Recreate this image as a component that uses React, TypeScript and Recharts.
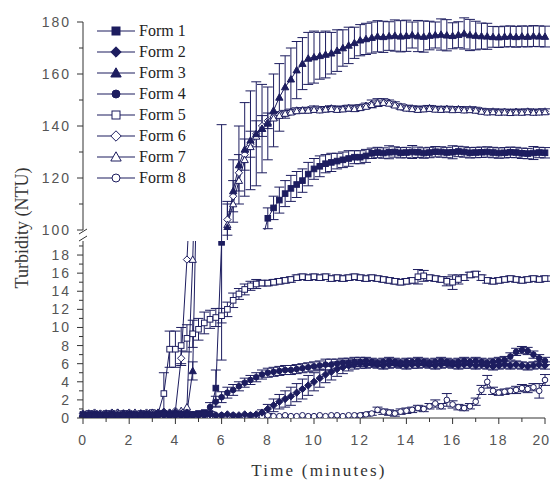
import { LineChart, Line, XAxis, YAxis, ErrorBar } from "recharts";

const NAVY = "#1d1d5f";
const AXIS = "#333";
const TICK_TXT = "#555";
const SANS = "'Liberation Sans', Arial, Helvetica, sans-serif";
const SERIF = "'Liberation Serif', 'Times New Roman', serif";

// time in minutes (0.25 min steps)
const time = [
  0, 0.25, 0.5, 0.75, 1, 1.25, 1.5, 1.75, 2, 2.25, 2.5, 2.75, 3, 3.25, 3.5, 3.75,
  4, 4.25, 4.5, 4.75, 5, 5.25, 5.5, 5.75, 6, 6.25, 6.5, 6.75, 7, 7.25, 7.5, 7.75,
  8, 8.25, 8.5, 8.75, 9, 9.25, 9.5, 9.75, 10, 10.25, 10.5, 10.75, 11, 11.25, 11.5, 11.75,
  12, 12.25, 12.5, 12.75, 13, 13.25, 13.5, 13.75, 14, 14.25, 14.5, 14.75, 15, 15.25, 15.5, 15.75,
  16, 16.25, 16.5, 16.75, 17, 17.25, 17.5, 17.75, 18, 18.25, 18.5, 18.75, 19, 19.25, 19.5, 19.75, 20,
];

const form1 = [
  0.3, 0.3, 0.4, 0.3, 0.3, 0.4, 0.3, 0.3, 0.4, 0.3, 0.3, 0.4, 0.3, 0.4, 0.5, 0.4, 0.5, 0.4, 0.5, 0.4, 0.5, 0.6, 0.5,
  3.3, 19.4, null, null, null, null, null, null, 96,
  104.5, 108.5, 111.5, 114, 116, 117.5, 119, 121.5, 123.5, 124.5, 125.5, 126, 126.5, 127, 127.5, 128, 128, 128.5, 129.5,
  129.8, 129.6, 129.9, 130, 129.7, 129.8, 130, 129.9, 129.6, 129.8,
  130.1, 130, 129.8, 129.9, 130.2, 130, 129.7, 129.8, 129.9, 130,
  129.8, 129.6, 129.7, 129.9, 129.8, 129.5, 129.4, 129.6, 129.8, 129.7,
];
const form1Err = [
  0, 0, 0, 0, 0, 0, 0, 0, 0, 0, 0, 0, 0, 0, 0, 0, 0, 0, 0, 0, 0, 0, 0,
  2, 13, 0, 0, 0, 0, 0, 0, 0,
  4, 4.5, 5, 5, 5, 5, 4.5, 4.5, 4, 4, 3.5, 3.5, 3, 3, 3, 2.5, 2.5, 2.5, 2,
  2, 2, 2.5, 2, 2, 2, 2.5, 2, 2, 2,
  2, 2, 2, 2.5, 2, 2, 2, 2, 2, 2,
  2, 2, 2, 2, 2, 2, 2, 2.5, 2, 2,
];

const form2 = [
  0.2, 0.2, 0.3, 0.2, 0.2, 0.3, 0.2, 0.2, 0.3, 0.2, 0.2, 0.3, 0.2, 0.3, 0.3, 0.2,
  0.3, 0.3, 0.2, 0.3, 0.3, 0.3, 0.4, 0.3, 0.3, 0.4, 0.3, 0.3, 0.4, 0.3, 0.4,
  0.6, 1.0, 1.4, 1.8, 2.1, 2.4, 2.8, 3.2, 3.6, 4.0, 4.4, 4.8, 5.1, 5.4, 5.6, 5.8, 5.9, 6.0,
  5.9, 6.0, 5.9, 5.8, 5.9, 6.0, 5.9, 5.8, 5.9, 5.9, 6.0, 5.9, 5.8, 5.9, 6.0, 5.9,
  5.8, 5.9, 5.9, 5.8, 5.9, 5.8, 5.7, 5.8, 5.9, 5.8, 5.9, 5.8, 5.7, 5.8, 5.9, 5.8,
];
const form2Err = [
  0, 0, 0, 0, 0, 0, 0, 0, 0, 0, 0, 0, 0, 0, 0, 0,
  0, 0, 0, 0, 0, 0, 0, 0, 0, 0, 0, 0, 0, 0, 0,
  0.3, 0.5, 0.7, 0.8, 0.9, 1.0, 1.0, 1.1, 1.1, 1.0, 1.0, 0.9, 0.9, 0.8, 0.7, 0.6, 0.5, 0.5,
  0.4, 0.4, 0.4, 0.4, 0.4, 0.4, 0.4, 0.4, 0.4, 0.4, 0.4, 0.4, 0.4, 0.4, 0.4, 0.4,
  0.4, 0.4, 0.4, 0.4, 0.4, 0.4, 0.4, 0.4, 0.4, 0.4, 0.4, 0.4, 0.4, 0.4, 0.4, 0.4,
];

const form3 = [
  0.4, 0.4, 0.3, 0.4, 0.4, 0.3, 0.4, 0.5, 0.4, 0.4, 0.5, 0.4, 0.4, 0.5, 0.6, 0.5, 0.6, 0.5, 0.6,
  5.2, 35, null, null, null, 92,
  101, 115, 125, 131, 134.5, 137, 139, 141, 146, 151, 155, 158, 161.5, 164, 166, 166.5,
  167, 167.5, 168, 169, 170, 171, 172, 173, 173.5, 174,
  174.5, 174.3, 174.6, 174.8, 174.5, 174.7, 175, 174.6, 174.4, 174.8,
  175, 175.2, 174.9, 174.7, 175.1, 175.6, 175, 174.8, 174.6, 174.5,
  174.3, 174.2, 174.4, 174.5, 174.3, 174.5, 174.4, 174.6, 174.5, 174.4,
];
const form3Err = [
  0, 0, 0, 0, 0, 0, 0, 0, 0, 0, 0, 0, 0, 0, 0, 0, 0, 0, 0,
  1, 0, 0, 0, 0, 0,
  10, 12, 15, 18, 19, 20, 17, 14, 14, 13, 12, 12, 11, 10, 10, 10,
  9, 9, 8, 8, 7, 7, 6, 6, 6, 6,
  6, 6, 5.5, 6, 6, 6, 5, 6, 6, 5.5,
  5, 6, 6, 5, 5, 6, 6, 5.5, 5, 5,
  4, 4, 4, 4, 4, 4, 4, 4, 4, 4,
];

const form4 = [
  0.3, 0.3, 0.2, 0.3, 0.3, 0.2, 0.3, 0.3, 0.2, 0.3, 0.3, 0.2, 0.3, 0.3, 0.4, 0.3,
  0.3, 0.4, 0.3, 0.3, 0.4, 0.5,
  1.2, 1.8, 2.3, 2.8, 3.1, 3.5, 3.9, 4.2, 4.5, 4.8, 5.0, 5.1, 5.2, 5.3, 5.3, 5.4,
  5.5, 5.6, 5.7, 5.8, 5.9, 5.9, 6.0, 6.1, 6.1, 6.2, 6.2,
  6.3, 6.2, 6.1, 6.2, 6.3, 6.2, 6.1, 6.2, 6.2, 6.3, 6.2, 6.1,
  6.2, 6.3, 6.2, 6.1, 6.2, 6.3, 6.2, 6.3, 6.2, 6.1, 6.2, 6.3,
  6.4, 6.8, 7.3, 7.5, 7.4, 7.0, 6.6, 6.3,
];
const form4Err = [
  0, 0, 0, 0, 0, 0, 0, 0, 0, 0, 0, 0, 0, 0, 0, 0,
  0, 0, 0, 0, 0, 0,
  0.5, 0.6, 0.6, 0.6, 0.6, 0.5, 0.5, 0.5, 0.5, 0.5, 0.5, 0.5, 0.5, 0.5, 0.5, 0.5,
  0.5, 0.5, 0.5, 0.5, 0.6, 0.6, 0.5, 0.5, 0.5, 0.5, 0.5,
  0.4, 0.4, 0.4, 0.4, 0.4, 0.4, 0.4, 0.4, 0.4, 0.4, 0.4, 0.4,
  0.4, 0.4, 0.4, 0.4, 0.4, 0.4, 0.4, 0.4, 0.4, 0.4, 0.4, 0.4,
  0.4, 0.4, 0.4, 0.4, 0.4, 0.4, 0.4, 0.4,
];

const form5 = [
  0.4, 0.5, 0.5, 0.4, 0.5, 0.5, 0.4, 0.5, 0.5, 0.4, 0.5, 0.5, 0.6, 0.5,
  2.7, 7.6, 7.6, 8.0, 8.8, 9.3, 9.8, 10.5, 10.9, 11.1, 11.3, 12.0, 13.0, 13.7, 14.2, 14.6, 14.8,
  14.9, 14.9, 15.0, 15.1, 15.2, 15.3, 15.5, 15.6, 15.5, 15.6,
  15.5, 15.6, 15.4, 15.5, 15.4, 15.5, 15.6, 15.5, 15.4, 15.5,
  15.4, 15.3, 15.2, 15.1, 15.0, 15.1, 15.2, 15.6, 15.7, 15.5,
  15.4, 15.3, 15.1, 15.0, 15.3, 15.5, 15.8, 15.9, 15.5, 15.2,
  15.1, 15.2, 15.3, 15.4, 15.3, 15.2, 15.3, 15.4, 15.3, 15.4,
];
const form5Err = [
  0, 0, 0, 0, 0, 0, 0, 0, 0, 0, 0, 0, 0, 0,
  2.3, 2, 2, 2, 1.5, 1.5, 1.2, 1.2, 1, 1, 0.8, 0.8, 0.8, 0.6, 0.6, 0.5, 0.5,
  0.3, 0.3, 0.3, 0.3, 0.3, 0.3, 0.3, 0.3, 0.3, 0.3,
  0.3, 0.3, 0.3, 0.3, 0.3, 0.3, 0.3, 0.3, 0.3, 0.3,
  0.3, 0.3, 0.3, 0.3, 0.3, 0.3, 0.3, 0.8, 0.6, 0.3,
  0.3, 0.3, 0.5, 0.8, 0.5, 0.3, 0.3, 0.3, 0.3, 0.3,
  0.3, 0.3, 0.3, 0.3, 0.3, 0.3, 0.3, 0.3, 0.3, 0.3,
];

const form6 = [
  0.5, 0.5, 0.6, 0.5, 0.5, 0.6, 0.6, 0.5, 0.6, 0.5, 0.5, 0.6, 0.5, 0.6, 0.7, 0.6, 0.8,
  6.6, 17.5, 30, null, null, null, null, 93,
  104, 113, 122, 129, 133, 137, 140, 142, 143.5, 144.5, 145, 145.5,
  146, 146, 146.2, 146.5, 146.3, 146.5, 146.8, 146.5, 146.7, 147, 146.8, 147.2, 147.8, 148.5,
  149, 149.3, 149, 148.3, 147.5, 147, 146.8, 146.5, 146.7, 146.9,
  146.6, 146.5, 146.6, 146.4, 146.5, 146.3, 146.4, 146.2, 145.8, 145.5,
  145.6, 145.4, 145.5, 145.3, 145.5, 145.4, 145.6, 145.4, 145.5, 145.6,
];
const form6Err = [
  0, 0, 0, 0, 0, 0, 0, 0, 0, 0, 0, 0, 0, 0, 0, 0, 0,
  0.8, 0, 0, 0, 0, 0, 0, 0,
  6, 6, 7, 6, 5, 5, 4, 3, 1.2, 1, 1, 1,
  1, 1, 1, 1.2, 1, 1, 1, 1, 1, 1, 1.2, 1, 1, 1.5,
  1.5, 1.2, 1, 1, 1, 1, 1, 1, 1, 1,
  1, 1, 1, 1, 1, 1, 1, 1, 1, 1,
  1, 1, 1, 1, 1, 1, 1, 1, 1, 1,
];

const form7 = [
  0.4, 0.5, 0.5, 0.4, 0.5, 0.5, 0.6, 0.5, 0.5, 0.6, 0.5, 0.5, 0.6, 0.6, 0.7, 0.6, 0.7, 0.8,
  1.2, 17.5, 40, null, null, null, 91,
  102, 110, 119, 127, 132, 136, 139, 141.5, 143, 144, 144.8, 145.3,
  145.8, 146, 146, 146.3, 146.1, 146.4, 146.6, 146.3, 146.5, 146.8, 146.6, 147, 147.5, 148.2,
  148.8, 149, 148.7, 148, 147.3, 146.8, 146.6, 146.3, 146.5, 146.7,
  146.4, 146.3, 146.5, 146.2, 146.3, 146.1, 146.2, 146, 145.6, 145.3,
  145.4, 145.2, 145.3, 145.1, 145.3, 145.2, 145.4, 145.2, 145.3, 145.4,
];

const form8 = [
  0.3, 0.4, 0.4, 0.5, 0.4, 0.4, 0.5, 0.5, 0.4, 0.5, 0.4, 0.4, 0.5, 0.4, 0.4, 0.3,
  0.4, 0.3, 0.3, 0.4, 0.3, 0.3, 0.2, 0.3, 0.3, 0.2, 0.3, 0.2, 0.2, 0.3, 0.2, 0.2,
  0.3, 0.2, 0.2, 0.3, 0.2, 0.2, 0.3, 0.2, 0.2, 0.3, 0.2, 0.3, 0.3, 0.2, 0.3, 0.3,
  0.3, 0.4, 0.5, 0.9, 0.7, 0.6, 0.5, 0.7, 0.8, 0.9, 1.1, 1.0, 1.3, 1.6, 1.3, 2.0,
  1.5, 1.2, 1.1, 1.3, 1.8, 3.1, 4.0, 3.0, 2.8, 2.9, 3.0, 3.1, 3.3, 3.2, 3.4, 3.0, 4.2,
];
const form8Err = [
  0, 0, 0, 0, 0, 0, 0, 0, 0, 0, 0, 0, 0, 0, 0, 0,
  0, 0, 0, 0, 0, 0, 0, 0, 0, 0, 0, 0, 0, 0, 0, 0,
  0, 0, 0, 0, 0, 0, 0, 0, 0, 0, 0, 0, 0, 0, 0, 0,
  0.2, 0.2, 0.2, 0.3, 0.3, 0.3, 0.3, 0.3, 0.3, 0.3, 0.3, 0.3, 0.3, 0.4, 0.3, 0.7,
  0.4, 0.3, 0.3, 0.3, 0.4, 0.5, 0.7, 0.4, 0.3, 0.3, 0.3, 0.4, 0.4, 0.4, 0.4, 0.8, 0.6,
];

const seriesNames = ["Form 1", "Form 2", "Form 3", "Form 4", "Form 5", "Form 6", "Form 7", "Form 8"];

type Shape = "square" | "diamond" | "triangle" | "circle";

const series: { key: string; name: string; values: (number | null)[]; err: number[] | null; shape: Shape; filled: boolean }[] = [
  { key: "f5", name: seriesNames[4], values: form5, err: form5Err, shape: "square", filled: false },
  { key: "f8", name: seriesNames[7], values: form8, err: form8Err, shape: "circle", filled: false },
  { key: "f6", name: seriesNames[5], values: form6, err: form6Err, shape: "diamond", filled: false },
  { key: "f7", name: seriesNames[6], values: form7, err: null, shape: "triangle", filled: false },
  { key: "f1", name: seriesNames[0], values: form1, err: form1Err, shape: "square", filled: true },
  { key: "f2", name: seriesNames[1], values: form2, err: form2Err, shape: "diamond", filled: true },
  { key: "f3", name: seriesNames[2], values: form3, err: form3Err, shape: "triangle", filled: true },
  { key: "f4", name: seriesNames[3], values: form4, err: form4Err, shape: "circle", filled: true },
];

const legendItems: { shape: Shape; filled: boolean }[] = [
  { shape: "square", filled: true },
  { shape: "diamond", filled: true },
  { shape: "triangle", filled: true },
  { shape: "circle", filled: true },
  { shape: "square", filled: false },
  { shape: "diamond", filled: false },
  { shape: "triangle", filled: false },
  { shape: "circle", filled: false },
];

const data = time.map((t, i) => {
  const row: any = { t };
  series.forEach((s) => {
    row[s.key] = s.values[i];
    row[s.key + "e"] = s.err ? s.err[i] : 0;
  });
  return row;
});

const topTicks = [100, 110, 120, 130, 140, 150, 160, 170, 180];
const bottomTicks = [0, 1, 2, 3, 4, 5, 6, 7, 8, 9, 10, 11, 12, 13, 14, 15, 16, 17, 18, 19];
const xTicks = [0, 1, 2, 3, 4, 5, 6, 7, 8, 9, 10, 11, 12, 13, 14, 15, 16, 17, 18, 19, 20];

function Marker({ shape, filled, cx, cy, r }: { shape: Shape; filled: boolean; cx: number; cy: number; r: number }) {
  const fill = filled ? NAVY : "#fff";
  const common = { fill, stroke: NAVY, strokeWidth: 1 };
  if (shape === "square") return <rect x={cx - r} y={cy - r} width={2 * r} height={2 * r} {...common} />;
  if (shape === "diamond") {
    const d = r * 1.3;
    return <polygon points={`${cx},${cy - d} ${cx + d},${cy} ${cx},${cy + d} ${cx - d},${cy}`} {...common} />;
  }
  if (shape === "triangle") {
    const d = r * 1.3;
    return <polygon points={`${cx},${cy - d} ${cx + d},${cy + r} ${cx - d},${cy + r}`} {...common} />;
  }
  return <circle cx={cx} cy={cy} r={r} {...common} />;
}

const makeDot = (shape: Shape, filled: boolean) => (p: any) => {
  if (p.cx == null || p.cy == null || p.value == null || isNaN(p.cy)) return <g key={`dot-${p.index}`} />;
  return (
    <g key={`dot-${p.index}`}>
      <Marker shape={shape} filled={filled} cx={p.cx} cy={p.cy} r={2.8} />
    </g>
  );
};

const YTick = (step: number) => (p: any) => {
  const v = p.payload.value;
  const major = v % step === 0;
  return (
    <g>
      <line x1={p.x - (major ? 6 : 4)} x2={p.x} y1={p.y} y2={p.y} stroke={AXIS} strokeWidth={1} />
      {major && (
        <text
          x={p.x - 12}
          y={p.y}
          textAnchor="end"
          dominantBaseline="central"
          style={{ fontFamily: SANS, fontSize: 14, letterSpacing: 2 }}
          fill={TICK_TXT}
        >
          {v}
        </text>
      )}
    </g>
  );
};

const XTick = (p: any) => {
  const v = p.payload.value;
  const major = v % 2 === 0;
  const last = v === 20;
  return (
    <g>
      <line x1={p.x} x2={p.x} y1={p.y} y2={p.y + (major ? 6 : 4)} stroke={AXIS} strokeWidth={1} />
      {major && (
        <text
          x={last ? p.x + 5 : p.x}
          y={p.y + 22}
          textAnchor={last ? "end" : "middle"}
          dominantBaseline="central"
          style={{ fontFamily: SANS, fontSize: 14, letterSpacing: last ? 1 : 1.8 }}
          fill={TICK_TXT}
        >
          {v}
        </text>
      )}
    </g>
  );
};

function renderLines() {
  return series.map((s) => (
    <Line
      key={s.key}
      dataKey={s.key}
      name={s.name}
      type="linear"
      stroke={NAVY}
      strokeWidth={1}
      dot={makeDot(s.shape, s.filled)}
      activeDot={false}
      isAnimationActive={false}
      connectNulls={false}
    >
      {s.err && <ErrorBar dataKey={s.key + "e"} width={5} stroke={NAVY} strokeWidth={1} direction="y" />}
    </Line>
  ));
}

export default function App() {
  return (
    <div style={{ position: "fixed", left: 0, top: 0, width: 554, height: 485, background: "#fff" }}>
      <div style={{ position: "absolute", left: 0, top: 0 }}>
        <LineChart width={554} height={240} data={data} margin={{ top: 22, right: 9, bottom: 10, left: 0 }}>
          <XAxis dataKey="t" type="number" domain={[0, 20]} hide />
          <YAxis
            type="number"
            domain={[100, 180]}
            allowDataOverflow
            ticks={topTicks}
            interval={0}
            width={83}
            tickSize={0}
            tickMargin={0}
            tickLine={false}
            axisLine={{ stroke: AXIS }}
            tick={YTick(20)}
          />
          {renderLines()}
        </LineChart>
      </div>
      <div style={{ position: "absolute", left: 0, top: 0 }}>
        <LineChart width={554} height={485} data={data} margin={{ top: 241, right: 9, bottom: 37, left: 0 }}>
          <XAxis
            dataKey="t"
            type="number"
            domain={[0, 20]}
            ticks={xTicks}
            interval={0}
            height={30}
            tickSize={0}
            tickMargin={0}
            tickLine={false}
            axisLine={{ stroke: AXIS }}
            tick={XTick}
          />
          <YAxis
            type="number"
            domain={[0, 19.55]}
            allowDataOverflow
            ticks={bottomTicks}
            interval={0}
            width={83}
            tickSize={0}
            tickMargin={0}
            tickLine={false}
            axisLine={{ stroke: AXIS }}
            tick={YTick(2)}
          />
          {renderLines()}
        </LineChart>
      </div>
      <svg width={554} height={485} style={{ position: "absolute", left: 0, top: 0, pointerEvents: "none" }}>
        {/* axis break */}
        <rect x={80} y={231} width={8} height={9} fill="#fff" />
        <line x1={79} y1={234} x2={87} y2={229} stroke={AXIS} strokeWidth={1} />
        <line x1={79} y1={241} x2={87} y2={236} stroke={AXIS} strokeWidth={1} />
        {/* legend */}
        {seriesNames.map((n, i) => {
          const y = 31 + i * 21;
          return (
            <g key={n}>
              <line x1={97} x2={135} y1={y} y2={y} stroke={NAVY} strokeWidth={1.2} />
              <Marker shape={legendItems[i].shape} filled={legendItems[i].filled} cx={116} cy={y} r={4} />
              <text x={139} y={y + 5} style={{ fontFamily: SERIF, fontSize: 16 }} fill="#222">
                {n}
              </text>
            </g>
          );
        })}
        <text
          x={22}
          y={228}
          transform="rotate(-90, 22, 228)"
          textAnchor="middle"
          dominantBaseline="central"
          style={{ fontFamily: SERIF, fontSize: 18 }}
          fill="#333"
        >
          Turbidity (NTU)
        </text>
        <text
          x={319}
          y={476}
          textAnchor="middle"
          style={{ fontFamily: SERIF, fontSize: 17, letterSpacing: 2.2 }}
          fill="#333"
        >
          Time (minutes)
        </text>
      </svg>
    </div>
  );
}
